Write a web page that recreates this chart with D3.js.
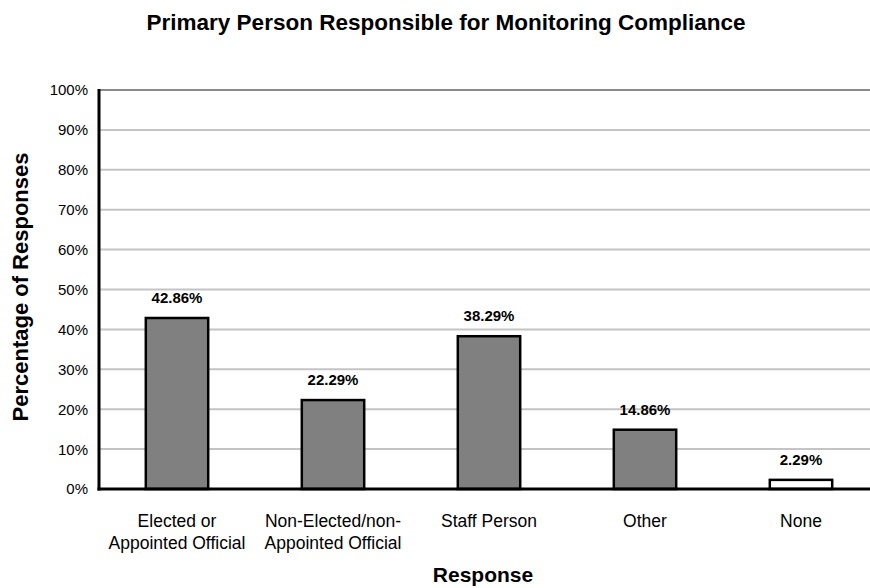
<!DOCTYPE html>
<html><head><meta charset="utf-8">
<script src="https://cdn.jsdelivr.net/npm/d3@7"></script>
<style>body{margin:0;background:#fff}text{font-family:"Liberation Sans",Arial,sans-serif}</style>
</head><body>
<svg id="c" width="870" height="588"></svg>
<script>
const categories = [["Elected or","Appointed Official"],["Non-Elected/non-","Appointed Official"],["Staff Person"],["Other"],["None"]];
const values = [42.86, 22.29, 38.29, 14.86, 2.29];
const fills = ["#808080","#808080","#808080","#808080","#ffffff"];
const yTicks = [0,10,20,30,40,50,60,70,80,90,100];

const svg = d3.select("#c");
const L=99, R=879, T=90, B=489;
const x = d3.scaleBand().domain(d3.range(values.length)).range([L,R]).paddingInner(0.6).paddingOuter(0.3);
const y = d3.scaleLinear().domain([0,100]).range([B,T]);

// gridlines
svg.append("g").selectAll("line").data(yTicks.filter(d=>d>0)).join("line")
  .attr("x1",L).attr("x2",870).attr("y1",d=>y(d)).attr("y2",d=>y(d))
  .attr("stroke",d=>d===100?"#8a8a8a":"#c4c4c4").attr("stroke-width",2);

// y tick labels
svg.append("g").selectAll("text").data(yTicks).join("text")
  .attr("x",88).attr("y",d=>y(d)).attr("dy","0.36em").attr("text-anchor","end")
  .attr("font-size",15).text(d=>d+"%");

// bars
svg.append("g").selectAll("rect").data(values).join("rect")
  .attr("x",(d,i)=>x(i)).attr("width",x.bandwidth())
  .attr("y",d=>y(d)).attr("height",d=>B-y(d))
  .attr("fill",(d,i)=>fills[i]).attr("stroke","#000").attr("stroke-width",2.5);

// value labels
svg.append("g").selectAll("text").data(values).join("text")
  .attr("x",(d,i)=>x(i)+x.bandwidth()/2).attr("y",d=>y(d)-15)
  .attr("text-anchor","middle").attr("font-size",15).attr("font-weight","bold")
  .text(d=>d.toFixed(2)+"%");

// axes lines
svg.append("line").attr("x1",L).attr("x2",L).attr("y1",T-1).attr("y2",B+1.5).attr("stroke","#000").attr("stroke-width",3);
svg.append("line").attr("x1",L-1.5).attr("x2",870).attr("y1",B).attr("y2",B).attr("stroke","#000").attr("stroke-width",3);

// category labels
const cg = svg.append("g").selectAll("text").data(categories).join("text")
  .attr("x",(d,i)=>x(i)+x.bandwidth()/2).attr("y",527).attr("text-anchor","middle").attr("font-size",17.5);
cg.selectAll("tspan").data(d=>d).join("tspan")
  .attr("x",function(){return this.parentNode.getAttribute("x");})
  .attr("dy",(d,i)=>i===0?0:22).text(d=>d);

// titles
svg.append("text").attr("x",446).attr("y",30).attr("text-anchor","middle").attr("font-size",22.5).attr("font-weight","bold")
  .text("Primary Person Responsible for Monitoring Compliance");
svg.append("text").attr("x",483).attr("y",582).attr("text-anchor","middle").attr("font-size",21).attr("font-weight","bold").text("Response");
svg.append("text").attr("transform","translate(28,287) rotate(-90)").attr("text-anchor","middle").attr("font-size",22).attr("font-weight","bold").text("Percentage of Responses");
</script>
</body></html>
